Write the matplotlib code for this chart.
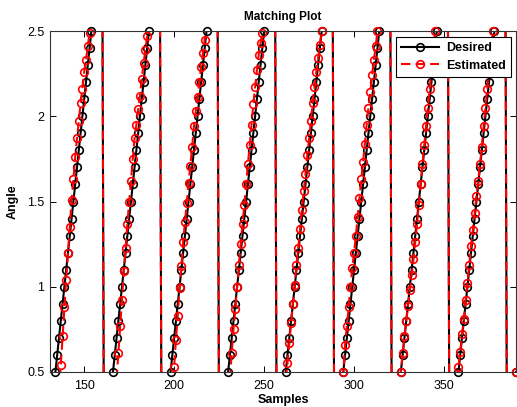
import numpy as np
import matplotlib
matplotlib.use('Agg')
import matplotlib.pyplot as plt
from matplotlib.lines import Line2D

plt.rcParams['font.family'] = ['Liberation Sans', 'DejaVu Sans']
plt.rcParams['font.size'] = 9

# sample index on the x axis
SAMPLES = np.arange(131, 391)

# desired angle: ramp 0.0 -> 3.1 in 0.1 steps, wrapping every 32 samples
RAMP = [0.0, 0.1, 0.2, 0.3, 0.4, 0.5, 0.6, 0.7, 0.8, 0.9, 1.0, 1.1, 1.2, 1.3, 1.4, 1.5,
        1.6, 1.7, 1.8, 1.9, 2.0, 2.1, 2.2, 2.3, 2.4, 2.5, 2.6, 2.7, 2.8, 2.9, 3.0, 3.1]
DESIRED = RAMP[2:] + RAMP * 7 + RAMP[:6]

# estimated angle
ESTIMATED = (
    [0.02, 0.05, 0.10, 0.16, 0.25, 0.38]
    + [0.54, 0.71, 0.88, 1.04, 1.20, 1.35, 1.51, 1.63, 1.76, 1.87, 1.97, 2.08, 2.16, 2.26, 2.33, 2.41, 2.49]
    + [2.57, 2.65, 2.73, 2.82, 2.90, 2.98, 3.07]
    + [0.02, 0.04, 0.07, 0.11, 0.17, 0.25, 0.34, 0.46]
    + [0.61, 0.77, 0.92, 1.09, 1.23, 1.37, 1.50, 1.62, 1.75, 1.87, 1.95, 2.04, 2.12, 2.22, 2.31, 2.39, 2.47]
    + [2.56, 2.64, 2.72, 2.81, 2.90, 2.99, 3.08]
    + [0.02, 0.05, 0.09, 0.14, 0.22, 0.31, 0.41]
    + [0.53, 0.69, 0.83, 0.99, 1.12, 1.26, 1.38, 1.49, 1.61, 1.71, 1.82, 1.94, 2.03, 2.11, 2.20, 2.29, 2.37, 2.45]
    + [2.54, 2.62, 2.70, 2.79, 2.88, 2.97, 3.06]
    + [0.02, 0.05, 0.10, 0.16, 0.24, 0.34, 0.46]
    + [0.61, 0.75, 0.87, 1.00, 1.13, 1.25, 1.37, 1.48, 1.60, 1.72, 1.83, 1.95, 2.07, 2.17, 2.27, 2.36, 2.43, 2.49]
    + [2.57, 2.65, 2.74, 2.83, 2.92, 3.00, 3.08]
    + [0.03, 0.09, 0.17, 0.26, 0.35, 0.45]
    + [0.55, 0.67, 0.79, 0.90, 1.01, 1.13, 1.23, 1.34, 1.45, 1.56, 1.66, 1.77, 1.87, 1.97, 2.08, 2.17, 2.26, 2.34, 2.42, 2.50]
    + [2.58, 2.67, 2.76, 2.86, 2.95, 3.05]
    + [0.04, 0.12, 0.21, 0.31, 0.41]
    + [0.50, 0.66, 0.77, 0.88, 1.00, 1.11, 1.20, 1.30, 1.41, 1.52, 1.63, 1.73, 1.84, 1.95, 2.05, 2.14, 2.24, 2.33, 2.41, 2.50]
    + [2.58, 2.66, 2.75, 2.84, 2.93, 3.02, 3.10]
    + [0.02, 0.10, 0.20, 0.30, 0.40]
    + [0.50, 0.61, 0.71, 0.80, 0.89, 0.98, 1.07, 1.16, 1.26, 1.37, 1.48, 1.60, 1.72, 1.83, 1.94, 2.05, 2.16, 2.27, 2.39, 2.50]
    + [2.58, 2.66, 2.75, 2.84, 2.93, 3.02, 3.10]
    + [0.02, 0.10, 0.20, 0.30, 0.40]
    + [0.53, 0.62, 0.72, 0.81, 0.92, 1.02, 1.13, 1.24, 1.33, 1.43, 1.53, 1.62, 1.72, 1.82, 1.94, 2.05, 2.16, 2.27, 2.38, 2.50]
    + [2.58, 2.66, 2.75, 2.84, 2.93, 3.02, 3.10]
    + [0.02, 0.10, 0.20, 0.30, 0.40]
    + [0.50]
)

X_TICKS = [150, 200, 250, 300, 350]
Y_TICKS = [0.5, 1, 1.5, 2, 2.5]
Y_TICK_LABELS = ['0.5', '1', '1.5', '2', '2.5']
Y_MIN, Y_MAX = 0.5, 2.5

desired = np.array(DESIRED)
estimated = np.array(ESTIMATED)

fig = plt.figure(figsize=(5.17, 4.07), dpi=100)
ax = fig.add_axes([50 / 517, 35 / 407, 466 / 517, 341 / 407])

dash = (0, (4.5, 2.5))
mk = dict(marker='o', markersize=5.5, markerfacecolor='none', markeredgewidth=1.2, linestyle='none')

# lines are clipped to the box, markers on the box edge stay whole (like MATLAB)
ax.plot(SAMPLES, desired, color='black', linewidth=1.5)
m = (desired >= Y_MIN - 1e-9) & (desired <= Y_MAX + 1e-9)
ax.plot(SAMPLES[m], desired[m], color='black', markeredgecolor='black', clip_on=False, **mk)

ax.plot(SAMPLES, estimated, color='red', linewidth=1.5, linestyle=dash)
m = (estimated >= Y_MIN - 1e-9) & (estimated <= Y_MAX + 1e-9)
ax.plot(SAMPLES[m], estimated[m], color='red', markeredgecolor='red', clip_on=False, **mk)

ax.set_xlim(131, 390)
ax.set_ylim(Y_MIN, Y_MAX)
ax.set_xticks(X_TICKS)
ax.set_xticklabels([str(t) for t in X_TICKS])
ax.set_yticks(Y_TICKS)
ax.set_yticklabels(Y_TICK_LABELS)
ax.tick_params(direction='in', length=4, width=0.7, top=True, right=True,
               labelsize=9, pad=4)
ax.tick_params(axis='x', pad=6)
for s in ax.spines.values():
    s.set_linewidth(0.8)
    s.set_color('#333333')

ax.set_title('Matching Plot', fontsize=8.5, fontweight='bold', pad=8)
ax.set_xlabel('Samples', fontsize=9, fontweight='bold', labelpad=1)
ax.set_ylabel('Angle', fontsize=9, fontweight='bold', labelpad=6)

handles = [
    Line2D([], [], color='black', linewidth=1.5, marker='o', markersize=5.5,
           markerfacecolor='none', markeredgewidth=1.2),
    Line2D([], [], color='red', linewidth=1.5, linestyle=dash, marker='o', markersize=5.5,
           markerfacecolor='none', markeredgewidth=1.2),
]
leg = ax.legend(handles, ['Desired', 'Estimated'], loc='upper right',
                bbox_to_anchor=(461 / 466, 335 / 341), borderaxespad=0,
                fancybox=False, framealpha=1, edgecolor='black',
                prop={'weight': 'bold', 'size': 9}, handlelength=3.0,
                handletextpad=0.6, borderpad=0.4, labelspacing=0.45)
leg.get_frame().set_linewidth(0.8)

fig.savefig('out.png', dpi=100)
